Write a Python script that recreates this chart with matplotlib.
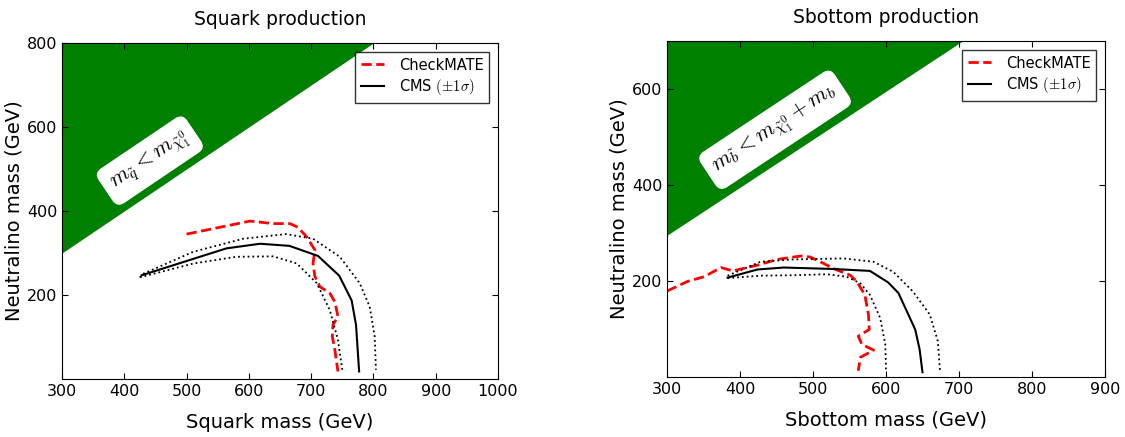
import matplotlib
matplotlib.use("Agg")
import matplotlib.pyplot as plt
import numpy as np

plt.rcParams["mathtext.fontset"] = "cm"
plt.rcParams["xtick.direction"] = "in"
plt.rcParams["ytick.direction"] = "in"
plt.rcParams["xtick.top"] = True
plt.rcParams["ytick.right"] = True
plt.rcParams["xtick.major.size"] = 4
plt.rcParams["ytick.major.size"] = 4

# --- squark production ---
sq_cms_x = [428, 564, 618, 665, 711, 745, 765, 772, 777]
sq_cms_y = [247, 311, 322, 317, 293, 246, 187, 129, 18]
sq_up_x = [425, 431, 511, 591, 660, 703, 746, 778, 794, 802, 804]
sq_up_y = [242, 251, 303, 334, 345, 334, 291, 228, 172, 101, 22]
sq_lo_x = [425, 511, 580, 639, 677, 709, 730, 743, 750]
sq_lo_y = [242, 275, 291, 292, 275, 228, 164, 93, 22]
sq_cm_x = [500, 602, 639, 666, 679, 693, 706, 703, 706, 714, 730, 738, 743, 735, 734, 738, 743]
sq_cm_y = [345, 376, 370, 370, 361, 338, 307, 275, 244, 220, 204, 184, 149, 129, 101, 70, 18]

# --- sbottom production ---
sb_cms_x = [383, 424, 460, 528, 578, 603, 617, 640, 646, 650]
sb_cms_y = [207, 224, 228, 225, 221, 197, 175, 99, 58, 10]
sb_up_x = [383, 428, 474, 542, 583, 610, 637, 660, 671, 674]
sb_up_y = [211, 240, 245, 247, 240, 219, 178, 130, 75, 13]
sb_lo_x = [383, 428, 474, 519, 546, 565, 578, 592, 599, 600]
sb_lo_y = [206, 211, 212, 214, 209, 195, 171, 123, 68, 16]
sb_cm_x = [300, 328, 351, 374, 390, 424, 451, 483, 496, 510, 528, 551, 560, 571, 576, 577, 562, 567, 583, 565, 562]
sb_cm_y = [179, 199, 209, 228, 221, 233, 245, 252, 250, 240, 226, 212, 199, 171, 130, 99, 85, 68, 56, 41, 13]

MB = 4.8  # b-quark mass offset for the kinematic boundary

fig = plt.figure(figsize=(11.25, 4.37), dpi=100)
ax1 = fig.add_axes([0.0551, 0.1327, 0.3876, 0.769])
ax2 = fig.add_axes([0.5929, 0.1373, 0.3893, 0.769])


def draw_panel(ax, cms_x, cms_y, up_x, up_y, lo_x, lo_y, cm_x, cm_y,
               xlim, ylim, offset):
    xs = np.array(xlim, dtype=float)
    ax.fill_between(xs, xs - offset, ylim[1], color="green", lw=0, zorder=0)
    ax.plot(cm_x, cm_y, color="red", ls="--", lw=2, label="CheckMATE")
    ax.plot(cms_x, cms_y, color="black", lw=1.5, label=r"CMS $(\pm 1\sigma)$")
    ax.plot(up_x, up_y, color="black", ls=":", lw=1.3)
    ax.plot(lo_x, lo_y, color="black", ls=":", lw=1.3)
    ax.set_xlim(*xlim)
    ax.set_ylim(*ylim)
    ax.tick_params(labelsize=11.5)
    leg = ax.legend(loc="upper right", fancybox=False, fontsize=10.5,
                    handlelength=1.6, handletextpad=1.0, labelspacing=0.3,
                    borderaxespad=0.6)
    leg.get_frame().set_edgecolor("black")
    leg.get_frame().set_linewidth(1.0)


draw_panel(ax1, sq_cms_x, sq_cms_y, sq_up_x, sq_up_y, sq_lo_x, sq_lo_y,
           sq_cm_x, sq_cm_y, (300, 1000), (0, 800), 0)
ax1.set_yticks([200, 400, 600, 800])
ax1.set_title("Squark production", fontsize=13.5, pad=13)
ax1.set_xlabel("Squark mass (GeV)", fontsize=14, labelpad=10)
ax1.set_ylabel("Neutralino mass (GeV)", fontsize=14, labelpad=2)
ax1.text(441, 520, r"$m_{\tilde{q}} < m_{\tilde{\chi}_1^0}$", fontsize=16,
         rotation=34, ha="center", va="center",
         bbox=dict(boxstyle="round,pad=0.35", fc="white", ec="white"))

draw_panel(ax2, sb_cms_x, sb_cms_y, sb_up_x, sb_up_y, sb_lo_x, sb_lo_y,
           sb_cm_x, sb_cm_y, (300, 900), (0, 700), MB)
ax2.set_yticks([200, 400, 600])
ax2.set_title("Sbottom production", fontsize=13.5, pad=13)
ax2.set_xlabel("Sbottom mass (GeV)", fontsize=14, labelpad=10)
ax2.set_ylabel("Neutralino mass (GeV)", fontsize=14, labelpad=2)
ax2.text(448, 515, r"$m_{\tilde{b}} < m_{\tilde{\chi}_1^0} + m_b$", fontsize=16,
         rotation=33.5, ha="center", va="center",
         bbox=dict(boxstyle="round,pad=0.35", fc="white", ec="white"))

fig.savefig("out.png", dpi=100)
